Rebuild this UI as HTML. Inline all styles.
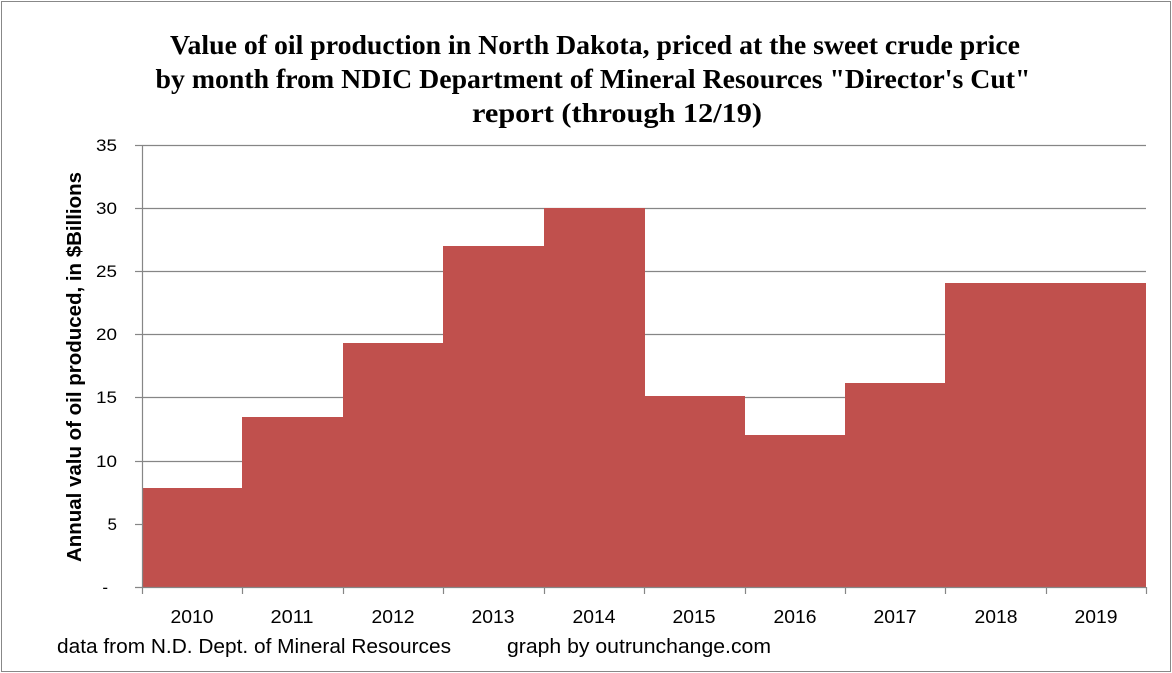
<!DOCTYPE html>
<html><head><meta charset="utf-8"><style>
html,body{margin:0;padding:0;background:#fff}
svg{display:block}
</style></head><body>
<svg width="1172" height="673" viewBox="0 0 1172 673" xmlns="http://www.w3.org/2000/svg">
<rect x="1.5" y="1.5" width="1169" height="670" fill="#fff" stroke="#888" stroke-width="1"/>
<g font-family="Liberation Serif, serif" font-weight="bold" font-size="27" text-anchor="middle" fill="#000" lengthAdjust="spacingAndGlyphs">
<text x="595" y="54" textLength="850" lengthAdjust="spacingAndGlyphs">Value of oil production in North Dakota, priced at the sweet crude price</text>
<text x="593" y="88" textLength="875" lengthAdjust="spacingAndGlyphs">by month from NDIC Department of Mineral Resources "Director's Cut"</text>
<text x="617" y="122" textLength="290" lengthAdjust="spacingAndGlyphs">report  (through 12/19)</text>
</g>
<g stroke="#868686" stroke-width="1.2">
<line x1="142" y1="145.5" x2="1146" y2="145.5"/>
<line x1="142" y1="208.5" x2="1146" y2="208.5"/>
<line x1="142" y1="271.5" x2="1146" y2="271.5"/>
<line x1="142" y1="334.5" x2="1146" y2="334.5"/>
<line x1="142" y1="397.5" x2="1146" y2="397.5"/>
<line x1="142" y1="461.5" x2="1146" y2="461.5"/>
<line x1="142" y1="524.5" x2="1146" y2="524.5"/>
</g>
<g fill="#c0504d">
<rect x="142" y="488" width="101" height="99"/>
<rect x="242" y="417" width="101" height="170"/>
<rect x="343" y="343" width="101" height="244"/>
<rect x="443" y="246" width="101" height="341"/>
<rect x="544" y="208" width="101" height="379"/>
<rect x="644" y="396" width="101" height="191"/>
<rect x="745" y="435" width="101" height="152"/>
<rect x="845" y="383" width="101" height="204"/>
<rect x="945" y="283" width="201" height="304"/>
</g>
<g stroke="#868686" stroke-width="1.2">
<line x1="142.5" y1="145" x2="142.5" y2="588"/>
<line x1="135" y1="587.5" x2="1146" y2="587.5"/>
<line x1="135" y1="145.5" x2="142" y2="145.5"/>
<line x1="135" y1="208.5" x2="142" y2="208.5"/>
<line x1="135" y1="271.5" x2="142" y2="271.5"/>
<line x1="135" y1="334.5" x2="142" y2="334.5"/>
<line x1="135" y1="397.5" x2="142" y2="397.5"/>
<line x1="135" y1="461.5" x2="142" y2="461.5"/>
<line x1="135" y1="524.5" x2="142" y2="524.5"/>
<line x1="142.5" y1="587" x2="142.5" y2="594"/>
<line x1="242.5" y1="587" x2="242.5" y2="594"/>
<line x1="343.5" y1="587" x2="343.5" y2="594"/>
<line x1="443.5" y1="587" x2="443.5" y2="594"/>
<line x1="544.5" y1="587" x2="544.5" y2="594"/>
<line x1="644.5" y1="587" x2="644.5" y2="594"/>
<line x1="745.5" y1="587" x2="745.5" y2="594"/>
<line x1="845.5" y1="587" x2="845.5" y2="594"/>
<line x1="945.5" y1="587" x2="945.5" y2="594"/>
<line x1="1046.5" y1="587" x2="1046.5" y2="594"/>
<line x1="1146.5" y1="587" x2="1146.5" y2="594"/>
</g>
<g font-family="Liberation Sans, sans-serif" font-size="17" fill="#000" text-anchor="end">
<text x="117" y="151" textLength="21" lengthAdjust="spacingAndGlyphs">35</text>
<text x="117" y="214" textLength="21" lengthAdjust="spacingAndGlyphs">30</text>
<text x="117" y="277" textLength="21" lengthAdjust="spacingAndGlyphs">25</text>
<text x="117" y="340" textLength="21" lengthAdjust="spacingAndGlyphs">20</text>
<text x="117" y="403" textLength="21" lengthAdjust="spacingAndGlyphs">15</text>
<text x="117" y="467" textLength="21" lengthAdjust="spacingAndGlyphs">10</text>
<text x="117" y="530">5</text>
<text x="108" y="593">-</text>
</g>
<g font-family="Liberation Sans, sans-serif" font-size="18" fill="#000" text-anchor="middle">
<text x="192" y="623" textLength="43" lengthAdjust="spacingAndGlyphs">2010</text>
<text x="292" y="623" textLength="43" lengthAdjust="spacingAndGlyphs">2011</text>
<text x="393" y="623" textLength="43" lengthAdjust="spacingAndGlyphs">2012</text>
<text x="493" y="623" textLength="43" lengthAdjust="spacingAndGlyphs">2013</text>
<text x="594" y="623" textLength="43" lengthAdjust="spacingAndGlyphs">2014</text>
<text x="694" y="623" textLength="43" lengthAdjust="spacingAndGlyphs">2015</text>
<text x="795" y="623" textLength="43" lengthAdjust="spacingAndGlyphs">2016</text>
<text x="895" y="623" textLength="43" lengthAdjust="spacingAndGlyphs">2017</text>
<text x="996" y="623" textLength="43" lengthAdjust="spacingAndGlyphs">2018</text>
<text x="1096" y="623" textLength="43" lengthAdjust="spacingAndGlyphs">2019</text>
</g>
<text transform="translate(81,367) rotate(-90)" font-family="Liberation Sans, sans-serif" font-weight="bold" font-size="20" text-anchor="middle" fill="#000" textLength="390" lengthAdjust="spacingAndGlyphs">Annual valu of oil produced, in $Billions</text>
<g font-family="Liberation Sans, sans-serif" font-size="20" fill="#000">
<text x="57" y="653" textLength="394" lengthAdjust="spacingAndGlyphs">data from N.D. Dept. of Mineral Resources</text>
<text x="507" y="653" textLength="264" lengthAdjust="spacingAndGlyphs">graph by outrunchange.com</text>
</g>
</svg>
</body></html>
